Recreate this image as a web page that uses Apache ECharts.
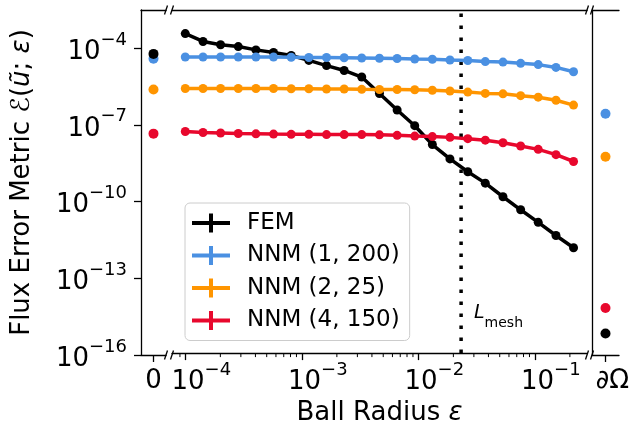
<!DOCTYPE html>
<html>
<head>
<meta charset="utf-8">
<script src="https://cdn.jsdelivr.net/npm/echarts@6/dist/echarts.min.js"></script>
<style>
  html, body { margin: 0; padding: 0; background: #fff; }
  #chart { width: 642px; height: 431px; }
</style>
</head>
<body>
<div id="chart"></div>
<script>
// ball radii (main, log-spaced part of the x axis)
const radius = [1.00e-4, 1.42e-4, 2.01e-4, 2.85e-4, 4.04e-4, 5.72e-4, 8.11e-4, 1.15e-3,
  1.63e-3, 2.31e-3, 3.27e-3, 4.64e-3, 6.58e-3, 9.32e-3, 1.32e-2, 1.87e-2, 2.66e-2,
  3.76e-2, 5.33e-2, 7.56e-2, 0.107, 0.152, 0.215]

const names = ['FEM', 'NNM (1, 200)', 'NNM (2, 25)', 'NNM (4, 150)']

const femErr = [3.63e-4, 1.78e-4, 1.32e-4, 1.12e-4, 8.3e-5, 6.6e-5, 5.0e-5, 3.2e-5, 2.0e-5,
  1.29e-5, 7.1e-6, 1.6e-6, 3.6e-7, 8.7e-8, 1.58e-8, 4.3e-9, 1.35e-9, 4.8e-10, 1.4e-10,
  4.3e-11, 1.38e-11, 4.2e-12, 1.38e-12]
const nnm1Err = [4.37e-5, 4.37e-5, 4.37e-5, 4.37e-5, 4.37e-5, 4.37e-5, 4.27e-5, 4.17e-5, 4.17e-5,
  4.07e-5, 3.98e-5, 3.89e-5, 3.80e-5, 3.63e-5, 3.55e-5, 3.31e-5, 3.16e-5, 2.88e-5, 2.75e-5,
  2.45e-5, 2.19e-5, 1.70e-5, 1.15e-5]
const nnm2Err = [2.51e-6, 2.51e-6, 2.51e-6, 2.51e-6, 2.51e-6, 2.51e-6, 2.45e-6, 2.45e-6, 2.40e-6,
  2.40e-6, 2.34e-6, 2.29e-6, 2.29e-6, 2.24e-6, 2.14e-6, 2.0e-6, 1.82e-6, 1.62e-6, 1.55e-6,
  1.32e-6, 1.15e-6, 8.7e-7, 5.6e-7]
const nnm4Err = [5.13e-8, 4.68e-8, 4.47e-8, 4.27e-8, 4.17e-8, 4.07e-8, 3.98e-8, 3.98e-8, 3.89e-8,
  3.89e-8, 3.89e-8, 3.80e-8, 3.63e-8, 3.39e-8, 3.24e-8, 3.02e-8, 2.69e-8, 2.34e-8, 1.86e-8,
  1.38e-8, 1.02e-8, 6.3e-9, 3.4e-9]

// separate columns: eps = 0 and the boundary dOmega (same order as names)
const zeroErr = [5.9e-5, 3.8e-5, 2.4e-6, 4.5e-8]
const boundaryErr = [6.9e-16, 2.7e-7, 5.6e-9, 6.9e-15]

const lMesh = 0.0233
const minorTicks = [9e-5, 2e-4, 3e-4, 4e-4, 5e-4, 6e-4, 7e-4, 8e-4, 9e-4,
  2e-3, 3e-3, 4e-3, 5e-3, 6e-3, 7e-3, 8e-3, 9e-3,
  2e-2, 3e-2, 4e-2, 5e-2, 6e-2, 7e-2, 8e-2, 9e-2, 2e-1]

const colors = ['#000000', '#4a90e2', '#ff9500', '#e8082d']
const mainErr = [femErr, nnm1Err, nnm2Err, nnm4Err]

const FONT = 'DejaVu Sans'
const yMin = 1e-16
const yMax = Math.pow(10, -2.513)
const xMin = Math.pow(10, -4.114)
const xMax = Math.pow(10, -0.552)

const powLabel = v => {
  const lg = Math.log10(v)
  const e = Math.round(lg)
  if (Math.abs(lg - e) > 1e-6) return ''
  return '{b|10}{s|' + (e < 0 ? '\u2212' : '') + Math.abs(e) + '}'
}
const powRich = {
  b: { fontSize: 26, fontFamily: FONT, color: '#000', lineHeight: 34, verticalAlign: 'bottom' },
  s: { fontSize: 18, fontFamily: FONT, color: '#000', lineHeight: 34, verticalAlign: 'top' }
}
const spine = { show: true, lineStyle: { color: '#000', width: 1.3 } }
const tick = { show: true, inside: false, length: 7, lineStyle: { color: '#000', width: 1.3 } }
const topLine = i => ({
  gridIndex: i, type: 'value', position: 'top', min: 0, max: 1,
  axisLine: spine, axisTick: { show: false }, axisLabel: { show: false }, splitLine: { show: false }
})
const crossIcon = 'path://M0,7.5h38v4h-38z M17,0h4v19h-4z'

const chart = echarts.init(document.getElementById('chart'))

const series = []
// L_mesh: dotted vertical line spanning the whole y range
series.push({
  name: 'Lmesh', type: 'line', xAxisIndex: 1, yAxisIndex: 1, silent: true,
  data: [[lMesh, yMin], [lMesh, yMax]], symbol: 'none',
  lineStyle: { color: '#000', width: 3.5, type: [3.5, 8.5], cap: 'butt' },
  z: 0, animation: false
})
names.forEach((name, i) => {
  series.push({
    name, type: 'line', xAxisIndex: 1, yAxisIndex: 1,
    data: radius.map((r, k) => [r, mainErr[i][k]]),
    symbol: 'circle', symbolSize: 9, showSymbol: true,
    lineStyle: { color: colors[i], width: 3.5 },
    itemStyle: { color: colors[i] },
    z: i === 0 ? 1 : 2,
    animation: false
  })
  series.push({
    name, type: 'scatter', xAxisIndex: 0, yAxisIndex: 0,
    data: [[0, zeroErr[i]]], symbolSize: 10,
    itemStyle: { color: colors[i], opacity: 1 }, z: i === 0 ? 5 : 3, animation: false
  })
  series.push({
    name, type: 'scatter', xAxisIndex: 2, yAxisIndex: 2,
    data: [[0, boundaryErr[i]]], symbolSize: 10,
    itemStyle: { color: colors[i], opacity: 1 }, animation: false
  })
})
// minor ticks on the log radius axis
series.push({
  type: 'custom', xAxisIndex: 1, yAxisIndex: 1, silent: true, clip: false,
  data: minorTicks.map(v => [v, yMin]),
  renderItem: (params, api) => {
    const p = api.coord([api.value(0), yMin])
    return {
      type: 'line',
      shape: { x1: p[0], y1: p[1], x2: p[0], y2: p[1] + 4 },
      style: { stroke: '#000', lineWidth: 1 }
    }
  }
})

// "//" break marks
const breaks = []
;[166, 172, 587, 592].forEach(x => {
  [10, 355].forEach(y => {
    breaks.push({
      type: 'line', shape: { x1: x - 1.5, y1: y + 4.5, x2: x + 1.5, y2: y - 4.5 },
      style: { stroke: '#000', lineWidth: 1.3 }, z: 100
    })
  })
})

chart.setOption({
  animation: false,
  textStyle: { fontFamily: FONT },
  grid: [
    { left: 141, width: 25, top: 10, height: 345 },
    { left: 172, width: 415, top: 10, height: 345 },
    { left: 592, width: 27, top: 10, height: 345 }
  ],
  xAxis: [
    {
      gridIndex: 0, type: 'category', data: ['0'], boundaryGap: true, position: 'bottom',
      axisLine: spine, axisTick: { ...tick, alignWithLabel: true },
      axisLabel: { fontSize: 26, color: '#000', margin: 13, fontFamily: FONT }
    },
    {
      gridIndex: 1, type: 'log', min: xMin, max: xMax, position: 'bottom',
      axisLine: spine, axisTick: tick, splitLine: { show: false },
      axisLabel: { formatter: powLabel, rich: powRich, margin: 8, padding: [0, 0, 0, 32],
        showMinLabel: false, showMaxLabel: false },
      name: 'Ball Radius {i|\u03b5}', nameLocation: 'middle', nameGap: 46,
      nameTextStyle: { fontSize: 26, color: '#000', fontFamily: FONT,
        rich: { i: { fontSize: 26, fontStyle: 'italic', fontFamily: FONT, color: '#000' } } }
    },
    {
      gridIndex: 2, type: 'category', data: ['\u2202\u03a9'], boundaryGap: true, position: 'bottom',
      axisLine: spine, axisTick: { ...tick, alignWithLabel: true },
      axisLabel: { fontSize: 26, color: '#000', margin: 13, fontFamily: FONT, padding: [0, 0, 0, 14] }
    },
    topLine(0), topLine(1), topLine(2)
  ],
  yAxis: [
    {
      gridIndex: 0, type: 'log', min: yMin, max: yMax, interval: 3, position: 'left',
      axisLine: spine, axisTick: tick, splitLine: { show: false },
      axisLabel: { formatter: powLabel, rich: powRich, margin: 14, showMaxLabel: false },
      name: 'Flux Error Metric {c|\u2130}({i|\u0169}; {i|\u03b5})', nameLocation: 'middle', nameGap: 106,
      nameRotate: 90,
      nameTextStyle: { fontSize: 26, color: '#000', fontFamily: FONT,
        rich: {
          c: { fontSize: 26, fontStyle: 'italic', fontFamily: FONT, color: '#000' },
          i: { fontSize: 26, fontStyle: 'italic', fontFamily: FONT, color: '#000' }
        } }
    },
    { gridIndex: 1, type: 'log', min: yMin, max: yMax, show: false },
    {
      gridIndex: 2, type: 'log', min: yMin, max: yMax, position: 'right',
      axisLine: spine, axisTick: { show: false }, axisLabel: { show: false }, splitLine: { show: false }
    }
  ],
  legend: {
    left: 185, top: 203, orient: 'vertical',
    data: names.map(n => ({ name: n, icon: crossIcon })),
    itemWidth: 38, itemHeight: 19, itemGap: 8.5,
    padding: [8, 10, 8, 7],
    backgroundColor: 'rgba(255,255,255,0.8)', borderColor: '#cccccc', borderWidth: 1, borderRadius: 5,
    textStyle: { fontSize: 23, color: '#000', fontFamily: FONT, lineHeight: 24, padding: [0, 0, 0, 12] }
  },
  graphic: breaks.concat([{
    type: 'text', left: 474, top: 304, z: 100,
    style: {
      text: '{i|L}{s|mesh}',
      rich: {
        i: { fontSize: 19, fontStyle: 'italic', fontFamily: FONT, fill: '#000', lineHeight: 26, verticalAlign: 'top' },
        s: { fontSize: 14, fontFamily: FONT, fill: '#000', lineHeight: 26, verticalAlign: 'bottom' }
      }
    }
  }]),
  series
})
</script>
</body>
</html>
